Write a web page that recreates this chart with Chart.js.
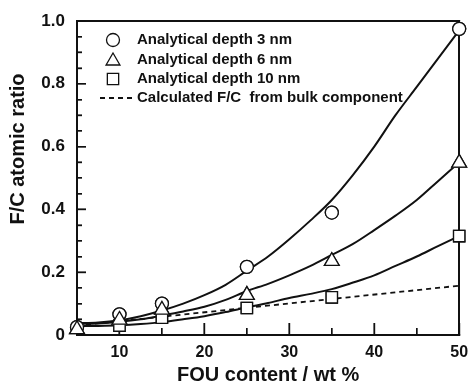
<!DOCTYPE html>
<html>
<head>
<meta charset="utf-8">
<script src="https://cdn.jsdelivr.net/npm/chart.js@4.4.1/dist/chart.umd.min.js"></script>
<style>
  html, body { margin: 0; padding: 0; background: #fff; }
  #wrap { width: 469px; height: 387px; }
</style>
</head>
<body>
<div id="wrap"><canvas id="fc"></canvas></div>
<script>
// measured points, FOU content (wt %) vs F/C atomic ratio
const fouX = [5, 10, 15, 25, 35, 50];
const depth3 = [0.025, 0.066, 0.100, 0.217, 0.390, 0.975];
const depth6 = [0.018, 0.048, 0.080, 0.127, 0.235, 0.548];
const depth10 = [null, 0.030, 0.055, 0.086, 0.120, 0.315];

// fitted curves
const fitX = [5, 7.5, 10, 12.5, 15, 17.5, 20, 22.5, 25, 27.5, 30, 32.5, 35, 37.5, 40, 42.5, 45, 47.5, 50];
const fit3 = [0.038, 0.040, 0.047, 0.060, 0.078, 0.100, 0.127, 0.160, 0.205, 0.250, 0.305, 0.365, 0.430, 0.510, 0.600, 0.700, 0.790, 0.880, 0.970];
const fit6 = [0.035, 0.037, 0.042, 0.050, 0.062, 0.075, 0.090, 0.112, 0.140, 0.163, 0.190, 0.220, 0.255, 0.290, 0.334, 0.380, 0.430, 0.490, 0.550];
const fit10 = [0.028, 0.029, 0.031, 0.035, 0.041, 0.050, 0.060, 0.073, 0.088, 0.102, 0.118, 0.131, 0.146, 0.167, 0.190, 0.220, 0.250, 0.283, 0.315];

// calculated F/C from bulk component
const bulkX = [5, 50];
const bulkFC = [0.030, 0.157];

const xTicks = [10, 20, 30, 40, 50];
const xMinor = [15, 25, 35, 45];
const yTicks = [0, 0.2, 0.4, 0.6, 0.8, 1.0];
const yMinor = [0.05, 0.1, 0.15, 0.25, 0.3, 0.35, 0.45, 0.5, 0.55, 0.65, 0.7, 0.75, 0.85, 0.9, 0.95];

const legendLabels = [
  'Analytical depth 3 nm',
  'Analytical depth 6 nm',
  'Analytical depth 10 nm',
  'Calculated F/C  from bulk component'
];

const INK = '#111111';
const FONT = "'Liberation Sans', Arial, sans-serif";

const pts = (xs, ys) => xs.map((x, i) => ({ x, y: ys[i] }));

function markerSet(label, ys, style, radius, order) {
  return {
    label,
    data: pts(fouX, ys),
    xAxisID: 'x',
    yAxisID: 'y',
    showLine: false,
    pointStyle: style,
    pointRadius: radius,
    pointBackgroundColor: '#ffffff',
    pointBorderColor: INK,
    pointBorderWidth: 1.3,
    clip: false,
    order
  };
}

function curveSet(label, xs, ys, dashed) {
  return {
    label,
    data: pts(xs, ys),
    xAxisID: 'x',
    yAxisID: 'y',
    borderColor: INK,
    borderWidth: dashed ? 1.8 : 2,
    borderDash: dashed ? [5, 4] : [],
    pointRadius: 0,
    cubicInterpolationMode: 'monotone',
    fill: false,
    clip: false,
    order: 5
  };
}

// box and inward ticks as filled strips, placed from the scales
function drawFrame(chart) {
  const ctx = chart.ctx;
  const x = chart.scales.x;
  const y = chart.scales.y;
  const left = Math.round(x.getPixelForValue(5));
  const right = Math.round(x.getPixelForValue(50));
  const top = Math.round(y.getPixelForValue(1));
  const bottom = Math.round(y.getPixelForValue(0));
  ctx.save();
  ctx.fillStyle = INK;
  ctx.fillRect(left - 1, top - 1, right - left + 2, 2);
  ctx.fillRect(left - 1, bottom - 1, right - left + 2, 2);
  ctx.fillRect(left - 1, top - 1, 2, bottom - top + 2);
  ctx.fillRect(right - 1, top - 1, 2, bottom - top + 2);

  yTicks.concat(yMinor).forEach(v => {
    const py = Math.round(y.getPixelForValue(v));
    const len = yTicks.includes(v) ? 9 : 5;
    ctx.fillRect(left, py - 0.6, len, 1.2);
  });
  xTicks.concat(xMinor).forEach(v => {
    const px = Math.round(x.getPixelForValue(v));
    const len = xTicks.includes(v) ? 12 : 7;
    ctx.fillRect(px - 0.6, bottom - len, 1.2, len);
  });
  ctx.restore();
}

// helper axes: minor inward ticks and the top/right sides of the box
function helperAxis(axis, position, min, max, values, tickLength, withBorder) {
  return {
    type: 'linear',
    axis,
    position,
    min,
    max,
    weight: -1,
    afterBuildTicks: s => { s.ticks = values.map(v => ({ value: v })); },
    afterFit: s => {
      if (axis === 'x') s.height = 0; else s.width = 0;
      s.paddingLeft = s.paddingRight = s.paddingTop = s.paddingBottom = 0;
    },
    ticks: { display: false },
    grid: {
      display: values.length > 0,
      drawOnChartArea: false,
      drawTicks: true,
      tickLength,
      color: INK,
      lineWidth: 1.2
    },
    border: { display: withBorder, color: INK, width: 1.5 }
  };
}

// frame, markers back on top, y title and in-plot legend
const notes = {
  id: 'fcNotes',
  afterDraw(chart) {
    const ctx = chart.ctx;
    drawFrame(chart);
    [2, 1, 0].forEach(i => chart.getDatasetMeta(i).controller.draw());

    ctx.save();
    ctx.fillStyle = INK;
    ctx.translate(18, 149);
    ctx.rotate(-Math.PI / 2);
    ctx.font = 'bold 20px ' + FONT;
    ctx.textAlign = 'center';
    ctx.textBaseline = 'middle';
    ctx.fillText('F/C atomic ratio', 0, 0);
    ctx.setTransform(1, 0, 0, 1, 0, 0);

    const rows = [40, 60, 79, 98];
    const mx = 113, tx = 137;
    const base = { borderWidth: 1.3, pointStyle: 'circle', radius: 6.5 };
    ctx.strokeStyle = INK;
    ctx.fillStyle = '#ffffff';
    ctx.lineWidth = 1.3;
    Chart.helpers.drawPoint(ctx, { ...base, pointStyle: 'circle', radius: 6.5 }, mx, rows[0]);
    Chart.helpers.drawPoint(ctx, { ...base, pointStyle: 'triangle', radius: 8 }, mx, rows[1] + 1);
    Chart.helpers.drawPoint(ctx, { ...base, pointStyle: 'rect', radius: 8 }, mx, rows[2]);
    ctx.lineWidth = 1.8;
    ctx.setLineDash([5, 4]);
    ctx.beginPath();
    ctx.moveTo(100, rows[3]);
    ctx.lineTo(134, rows[3]);
    ctx.stroke();
    ctx.setLineDash([]);

    ctx.fillStyle = INK;
    ctx.font = 'bold 15px ' + FONT;
    ctx.textAlign = 'left';
    ctx.textBaseline = 'middle';
    legendLabels.forEach((t, i) => ctx.fillText(t, tx, rows[i]));
    ctx.restore();
  }
};

new Chart(document.getElementById('fc').getContext('2d'), {
  type: 'line',
  data: {
    datasets: [
      markerSet('Analytical depth 6 nm', depth6, 'triangle', 8.5, 0),
      markerSet('Analytical depth 3 nm', depth3, 'circle', 6.5, 1),
      markerSet('Analytical depth 10 nm', depth10, 'rect', 8, 2),
      curveSet('fit 3 nm', fitX, fit3, false),
      curveSet('fit 6 nm', fitX, fit6, false),
      curveSet('fit 10 nm', fitX, fit10, false),
      curveSet('Calculated F/C from bulk component', bulkX, bulkFC, true)
    ]
  },
  options: {
    responsive: true,
    maintainAspectRatio: false,
    animation: false,
    devicePixelRatio: 1,
    layout: { padding: { top: 21, right: 7, left: 0, bottom: 0 } },
    plugins: {
      legend: { display: false },
      tooltip: { enabled: false }
    },
    scales: {
      x: {
        type: 'linear',
        position: 'bottom',
        min: 5,
        max: 50,
        afterBuildTicks: s => { s.ticks = xTicks.map(v => ({ value: v })); },
        afterFit: s => { s.height = 52; s.paddingRight = 0; s.paddingLeft = 0; },
        grid: {
          display: true,
          drawOnChartArea: false,
          drawTicks: true,
          tickLength: -12,
          color: INK,
          lineWidth: 1.2
        },
        border: { display: true, color: INK, width: 1.8 },
        ticks: {
          color: INK,
          padding: 20,
          maxRotation: 0,
          font: { family: FONT, size: 16, weight: 'bold' }
        },
        title: {
          display: true,
          text: 'FOU content / wt %',
          color: INK,
          padding: 0,
          font: { family: FONT, size: 20, weight: 'bold' }
        }
      },
      y: {
        type: 'linear',
        position: 'left',
        min: 0,
        max: 1,
        afterBuildTicks: s => { s.ticks = yTicks.map(v => ({ value: v })); },
        afterFit: s => { s.width = 77; s.paddingTop = 0; s.paddingBottom = 0; },
        grid: {
          display: true,
          drawOnChartArea: false,
          drawTicks: true,
          tickLength: -9,
          color: INK,
          lineWidth: 1.2
        },
        border: { display: true, color: INK, width: 1.5 },
        ticks: {
          color: INK,
          padding: 21,
          font: { family: FONT, size: 17, weight: 'bold' },
          callback: v => (v === 0 ? '0' : v.toFixed(1))
        }
      },
      xm: helperAxis('x', 'bottom', 5, 50, xMinor, -7, false),
      ym: helperAxis('y', 'left', 0, 1, yMinor, -5, false),
      xt: helperAxis('x', 'top', 5, 50, [], 0, true),
      yr: helperAxis('y', 'right', 0, 1, [], 0, true)
    }
  },
  plugins: [notes]
});
</script>
</body>
</html>
